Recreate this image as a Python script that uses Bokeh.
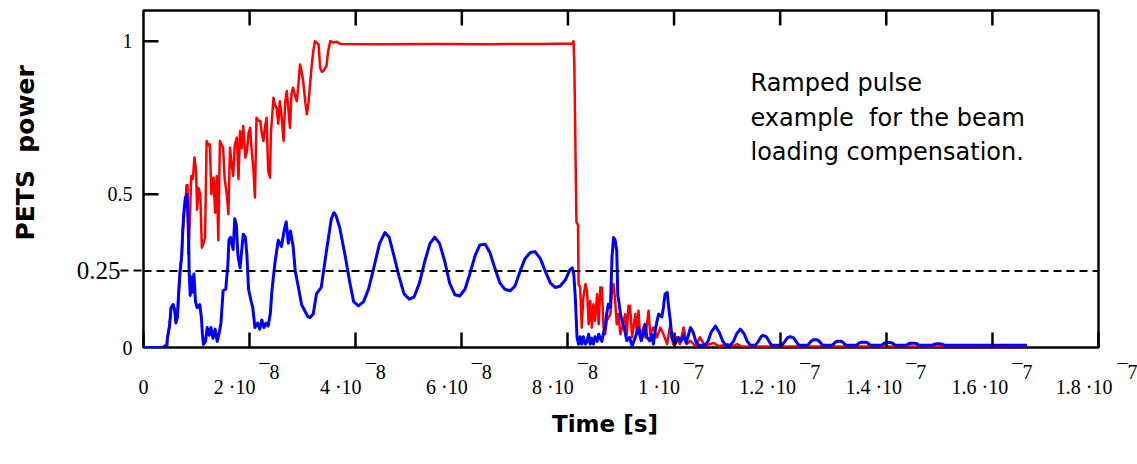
from bokeh.plotting import figure
from bokeh.models import (Range1d, LinearAxis, FixedTicker, ColumnDataSource,
                          Label, Span, CustomJSTickFormatter)
from bokeh.embed import file_html
from bokeh.resources import INLINE

# ---------------- data (time in ns, normalised PETS power) ----------------
red_t_ns = [
    0, 3.9, 4.0, 4.4, 4.5, 4.9, 5.2, 5.6, 5.9, 6.1,
    6.4, 6.6, 6.9, 7.2, 7.4, 7.7, 7.9, 8.1, 8.3, 8.45,
    8.7, 9.0, 9.3, 9.6, 9.9, 10.1, 10.4, 10.7, 11.0, 11.3,
    11.6, 11.9, 12.2, 12.5, 12.8, 13.2, 13.5, 13.8, 14.1, 14.4,
    15.0, 15.3, 15.7, 16.0, 16.3, 16.6, 16.9, 17.2, 17.6, 17.9,
    18.2, 18.5, 18.8, 19.2, 19.5, 19.8, 20.1, 20.4, 20.7, 21.0,
    21.3, 21.7, 22.0, 22.3, 22.6, 22.9, 23.2, 23.5, 23.85, 24.0,
    24.5, 24.8, 25.1, 25.4, 25.7, 26.0, 26.4, 26.7, 27.0, 27.3,
    27.6, 27.9, 28.2, 28.6, 28.9, 29.2, 29.5, 29.8, 30.1, 30.5,
    30.8, 31.1, 31.4, 31.7, 32.0, 32.3, 32.6, 33.0, 33.3, 33.6,
    33.9, 34.2, 34.5, 34.8, 35.2, 35.8, 36.4, 37.1, 45.0, 55.0,
    65.0, 75.0, 80.9, 81.05, 81.2, 81.45, 81.6, 81.9, 82.0, 82.3,
    82.6, 82.9, 83.3, 83.6, 83.9, 84.2, 84.5, 84.8, 85.1, 85.5,
    85.8, 86.1, 86.4, 86.7, 87.0, 87.3, 88.0, 88.3, 88.6, 88.9,
    89.2, 89.5, 89.9, 90.2, 90.8, 91.1, 91.4, 91.7, 92.1, 92.7,
    93.0, 93.3, 93.6, 94.2, 94.6, 95.2, 95.5, 96.1, 96.8, 97.4,
    98.0, 98.7, 99.3, 99.8, 100.5, 101.1, 101.8, 102.4, 103.1, 104.0,
    104.9, 105.8, 107.4, 108.5, 110.0, 111.0, 111.9, 112.8, 166.5,
]
red_power = [
    0, 0, 0.006, 0.006, 0.03, 0.07, 0.13, 0.14, 0.12, 0.08,
    0.10, 0.17, 0.25, 0.30, 0.38, 0.46, 0.46, 0.53, 0.53, 0.305,
    0.40, 0.56, 0.55, 0.62, 0.58, 0.45, 0.52, 0.50, 0.326, 0.34,
    0.36, 0.674, 0.66, 0.663, 0.50, 0.554, 0.44, 0.56, 0.35, 0.674,
    0.652, 0.55, 0.50, 0.435, 0.652, 0.60, 0.56, 0.66, 0.685, 0.55,
    0.706, 0.65, 0.723, 0.62, 0.641, 0.70, 0.717, 0.64, 0.587, 0.49,
    0.75, 0.74, 0.739, 0.70, 0.674, 0.72, 0.75, 0.576, 0.554, 0.696,
    0.815, 0.79, 0.782, 0.73, 0.804, 0.76, 0.674, 0.80, 0.837, 0.78,
    0.717, 0.83, 0.848, 0.82, 0.804, 0.86, 0.924, 0.90, 0.87, 0.80,
    0.761, 0.80, 0.859, 0.92, 0.967, 1.0, 0.995, 0.989, 0.913, 0.90,
    0.902, 0.91, 0.919, 0.967, 1.0, 0.995, 0.998, 0.991, 0.99, 0.991,
    0.99, 0.991, 0.992, 1.0, 0.93, 0.60, 0.41, 0.40, 0.207, 0.196,
    0.065, 0.163, 0.207, 0.185, 0.076, 0.152, 0.065, 0.141, 0.087, 0.174,
    0.076, 0.196, 0.196, 0.065, 0.043, 0.087, 0.109, 0.185, 0.207, 0.152,
    0.076, 0.109, 0.043, 0.065, 0.109, 0.043, 0.136, 0.136, 0.033, 0.109,
    0.043, 0.12, 0.033, 0.065, 0.033, 0.12, 0.043, 0.065, 0.033, 0.065,
    0.043, 0.011, 0.076, 0.011, 0.033, 0.011, 0.065, 0.011, 0.022, 0.005,
    0.033, 0.005, 0.015, 0.004, 0.011, 0.004, 0.011, 0.003, 0.003,
]

blue_t_ns = [
    0, 3.9, 4.0, 4.4, 4.5, 4.9, 5.2, 5.6, 5.9, 6.1,
    6.4, 6.6, 6.9, 7.2, 7.4, 7.7, 7.9, 8.2, 8.5, 8.6,
    8.8, 9.0, 9.3, 9.5, 9.8, 10.1, 10.6, 10.9, 11.1, 11.3,
    11.7, 12.0, 12.4, 12.7, 13.1, 13.5, 13.9, 14.3, 14.6, 15.0,
    15.5, 15.9, 16.1, 16.4, 16.9, 17.2, 17.5, 17.8, 18.2, 18.8,
    19.2, 19.5, 19.8, 20.3, 20.6, 21.0, 21.5, 21.9, 22.3, 22.7,
    23.1, 23.5, 23.9, 24.2, 24.8, 25.4, 26.0, 26.6, 26.9, 27.3,
    27.7, 28.2, 28.6, 29.2, 29.8, 30.4, 31.0, 31.4, 32.0, 32.6,
    33.5, 34.4, 35.4, 35.9, 36.3, 37.0, 38.0, 38.8, 39.6, 40.5,
    41.5, 42.4, 43.4, 44.5, 45.5, 46.3, 47.2, 48.2, 49.1, 50.1,
    51.0, 52.0, 53.0, 54.0, 54.9, 55.8, 56.8, 57.7, 58.7, 59.6,
    60.6, 61.5, 62.5, 63.4, 64.4, 65.3, 66.2, 67.2, 68.1, 69.1,
    70.0, 71.0, 71.9, 72.9, 73.8, 74.8, 75.7, 76.7, 77.6, 78.5,
    79.5, 80.4, 80.8, 81.1, 81.4, 81.7, 82.0, 82.3, 82.6, 82.9,
    83.3, 83.6, 83.9, 84.2, 84.5, 84.8, 85.1, 85.5, 85.8, 86.1,
    86.4, 86.7, 87.0, 87.3, 87.6, 88.0, 88.3, 88.6, 88.9, 89.2,
    89.4, 89.6, 89.9, 90.2, 90.6, 91.1, 91.6, 92.1, 92.7, 93.3,
    93.8, 94.2, 94.5, 94.9, 95.4, 95.8, 96.1, 96.5, 96.8, 97.1,
    97.7, 98.0, 98.3, 98.7, 99.0, 99.3, 99.6, 100.2, 100.8, 101.3,
    101.8, 102.3, 102.7, 103.1, 103.6, 104.1, 104.6, 105.8, 106.4, 107.0,
    107.8, 108.5, 109.2, 109.8, 110.6, 111.2, 111.8, 112.5, 113.2, 113.8,
    114.4, 115.3, 115.9, 116.4, 116.8, 117.4, 117.9, 118.4, 120.3, 120.9,
    121.4, 121.9, 122.5, 123.0, 123.5, 125.2, 125.7, 126.2, 127.0, 127.5,
    128.0, 129.8, 130.3, 130.7, 131.5, 131.9, 132.4, 134.4, 134.9, 135.3,
    136.1, 136.5, 137.0, 139.1, 139.6, 140.0, 140.8, 141.2, 141.7, 143.8,
    144.3, 144.7, 145.3, 145.7, 146.2, 148.6, 149.1, 149.5, 150.1, 150.5,
    151.0, 166.5,
]
blue_power = [
    0, 0, 0.005, 0.005, 0.03, 0.07, 0.13, 0.14, 0.12, 0.08,
    0.10, 0.17, 0.25, 0.30, 0.38, 0.46, 0.49, 0.50, 0.38, 0.25,
    0.17, 0.23, 0.18, 0.24, 0.15, 0.13, 0.14, 0.10, 0.045, 0.01,
    0.02, 0.065, 0.04, 0.065, 0.03, 0.06, 0.02, 0.05, 0.08, 0.185,
    0.19, 0.27, 0.35, 0.36, 0.32, 0.42, 0.40, 0.30, 0.26, 0.37,
    0.36, 0.30, 0.19, 0.15, 0.13, 0.065, 0.08, 0.06, 0.09, 0.065,
    0.08, 0.07, 0.11, 0.185, 0.28, 0.35, 0.33, 0.39, 0.41, 0.34,
    0.38, 0.33, 0.25, 0.196, 0.14, 0.12, 0.10, 0.098, 0.11, 0.175,
    0.196, 0.305, 0.42, 0.44, 0.43, 0.39, 0.30, 0.22, 0.15, 0.136,
    0.15, 0.19, 0.26, 0.34, 0.375, 0.36, 0.30, 0.23, 0.175, 0.158,
    0.165, 0.21, 0.28, 0.34, 0.36, 0.34, 0.28, 0.21, 0.172, 0.168,
    0.19, 0.24, 0.30, 0.335, 0.337, 0.31, 0.26, 0.21, 0.19, 0.185,
    0.20, 0.25, 0.29, 0.31, 0.313, 0.29, 0.25, 0.21, 0.196, 0.20,
    0.22, 0.255, 0.26, 0.24, 0.16, 0.035, 0.011, 0.035, 0.011, 0.035,
    0.011, 0.02, 0.043, 0.011, 0.03, 0.011, 0.035, 0.02, 0.043, 0.03,
    0.02, 0.048, 0.065, 0.109, 0.141, 0.13, 0.293, 0.359, 0.35, 0.315,
    0.17, 0.15, 0.109, 0.087, 0.065, 0.022, 0.033, 0.005, 0.033, 0.065,
    0.022, 0.043, 0.076, 0.033, 0.022, 0.043, 0.011, 0.06, 0.087, 0.109,
    0.10, 0.131, 0.174, 0.18, 0.13, 0.087, 0.03, 0.011, 0.033, 0.02,
    0.04, 0.015, 0.04, 0.065, 0.05, 0.02, 0.007, 0.007, 0.02, 0.05,
    0.07, 0.05, 0.02, 0.007, 0.007, 0.02, 0.045, 0.06, 0.045, 0.02,
    0.007, 0.007, 0.02, 0.035, 0.04, 0.035, 0.02, 0.007, 0.007, 0.02,
    0.032, 0.035, 0.032, 0.02, 0.007, 0.007, 0.018, 0.025, 0.025, 0.018,
    0.007, 0.007, 0.016, 0.02, 0.02, 0.016, 0.007, 0.007, 0.015, 0.017,
    0.017, 0.015, 0.007, 0.007, 0.014, 0.016, 0.016, 0.014, 0.007, 0.007,
    0.013, 0.014, 0.014, 0.013, 0.007, 0.007, 0.011, 0.012, 0.012, 0.011,
    0.007, 0.007,
]

threshold = 0.25
threshold_label = "0.25"
x_tick_values = [0, 2e-8, 4e-8, 6e-8, 8e-8, 1e-7, 1.2e-7, 1.4e-7, 1.6e-7, 1.8e-7]
x_tick_main = ["0", "2 ·10", "4 ·10", "6 ·10", "8 ·10", "1 ·10",
               "1.2 ·10", "1.4 ·10", "1.6 ·10", "1.8 ·10"]
x_tick_exp = ["", "¯8", "¯8", "¯8", "¯8", "¯7", "¯7", "¯7", "¯7", "¯7"]
y_tick_values = [0, 0.5, 1]
y_tick_labels = ["0", "0.5", "1"]

X_MAX = 1.8e-7
Y_MAX = 1.1

# ---------------- layout constants (pixels) ----------------
FRAME_W, FRAME_H = 955, 337
TICK_PX = 15
NBSP = "\u00a0"
SERIF = "Liberation Serif"
TICK_FONT = "20px"

p = figure(frame_width=FRAME_W, frame_height=FRAME_H,
           min_border_left=143, min_border_right=39,
           min_border_top=10, min_border_bottom=117,
           x_range=Range1d(0, X_MAX), y_range=Range1d(0, Y_MAX),
           x_axis_type=None, y_axis_type=None,
           output_backend="svg", toolbar_location=None)
p.background_fill_color = "white"
p.border_fill_color = "white"
p.outline_line_color = "black"
p.outline_line_width = 2.5
p.outline_line_alpha = 1.0


def lookup_formatter(vals, labels):
    return CustomJSTickFormatter(
        args=dict(vals=vals, labels=labels),
        code="""
        const scale = Math.max(...vals.map(Math.abs), 1e-30);
        for (let i = 0; i < vals.length; i++) {
            if (Math.abs(vals[i] - tick) <= 1e-6 * scale)
                return labels[i];
        }
        return "";
        """)


def label_axis(ticks, labels, standoff, font_size=TICK_FONT, tick_in=0, tick_out=0,
               tick_dash="solid"):
    has_ticks = bool(tick_in or tick_out)
    return LinearAxis(ticker=FixedTicker(ticks=ticks),
                      formatter=lookup_formatter(ticks, labels),
                      major_tick_in=tick_in, major_tick_out=tick_out,
                      major_tick_line_width=2.5 if tick_dash == "solid" else 2,
                      major_tick_line_dash=tick_dash,
                      major_tick_line_color="black" if has_ticks else None,
                      minor_tick_line_color=None, axis_line_color=None,
                      major_label_standoff=standoff,
                      major_label_text_font=SERIF,
                      major_label_text_font_size=font_size,
                      major_label_text_color="black")


# ---- x axis: exponent row (closest, carries the inward ticks), then mantissa row
is_long = [len(s) > 5 for s in x_tick_main]
exp_labels = [(NBSP * (12 if lg else 8) + e) if e else "" for e, lg in zip(x_tick_exp, is_long)]
main_labels = [m if m == "0" else m + NBSP * (5 if lg else 6) for m, lg in zip(x_tick_main, is_long)]

ax_exp = label_axis(x_tick_values, exp_labels, standoff=13, tick_in=TICK_PX)
ax_main = label_axis(x_tick_values, main_labels, standoff=-10)
ax_main.axis_label = "Time [s]" + NBSP * 4
ax_main.axis_label_standoff = 10
ax_main.axis_label_text_font = "DejaVu Sans"
ax_main.axis_label_text_font_style = "bold"
ax_main.axis_label_text_font_size = "23px"
ax_main.axis_label_text_color = "black"
p.add_layout(ax_exp, "below")
p.add_layout(ax_main, "below")

# ---- y axis: threshold label with dashed outer tick (closest), then 0 / 0.5 / 1
ax_thr = label_axis([threshold], [threshold_label], standoff=0, font_size="25px",
                    tick_out=23, tick_dash="8 5")
y_labels_padded = [NBSP * 8 + s for s in y_tick_labels]
ax_y = label_axis(y_tick_values, y_labels_padded, standoff=-59)
ax_y.axis_label = NBSP * 6 + "PETS" + NBSP + " power"
ax_y.axis_label_standoff = 25
ax_y.axis_label_text_font = "DejaVu Sans"
ax_y.axis_label_text_font_style = "bold"
ax_y.axis_label_text_font_size = "25px"
ax_y.axis_label_text_color = "black"
p.add_layout(ax_thr, "left")
p.add_layout(ax_y, "left")

# inward tick marks on the top edge and at 0.5 / 1 on the left edge
tick_dy = TICK_PX * Y_MAX / FRAME_H
tick_dx = TICK_PX * X_MAX / FRAME_W
top_ticks = x_tick_values[1:-1]
inner_y = [v for v in y_tick_values if v > 0]
p.segment(x0=top_ticks, y0=[Y_MAX] * len(top_ticks),
          x1=top_ticks, y1=[Y_MAX - tick_dy] * len(top_ticks),
          line_color="black", line_width=2.5)
p.segment(x0=[0] * len(inner_y), y0=inner_y,
          x1=[tick_dx] * len(inner_y), y1=inner_y,
          line_color="black", line_width=2.5)

# threshold dashed line
p.add_layout(Span(location=threshold, dimension="width", line_color="black",
                  line_width=2, line_dash="8 5"))

red_src = ColumnDataSource(dict(t=[v * 1e-9 for v in red_t_ns], p=red_power))
blue_src = ColumnDataSource(dict(t=[v * 1e-9 for v in blue_t_ns], p=blue_power))
p.line("t", "p", source=red_src, line_color="#ff0000", line_width=2.5, line_join="round")
p.line("t", "p", source=blue_src, line_color="#0000ff", line_width=3, line_join="round")

# annotation text (screen units relative to the plot frame)
note_lines = ["Ramped pulse", "example" + NBSP + " for the beam", "loading compensation."]
for line, yb in zip(note_lines, [265, 230, 196]):
    p.add_layout(Label(x=607, y=yb, x_units="screen", y_units="screen",
                       text=line, text_align="left", text_baseline="alphabetic",
                       text_font="DejaVu Sans", text_font_size="24px",
                       text_color="black"))

open("out.html", "w").write(file_html(p, INLINE))
